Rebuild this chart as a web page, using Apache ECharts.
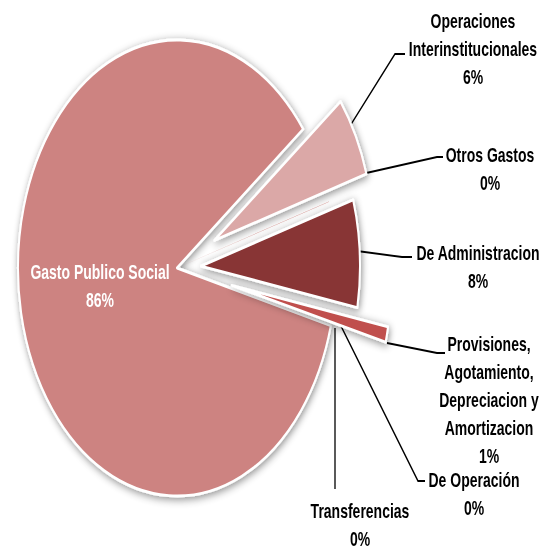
<!DOCTYPE html>
<html><head><meta charset="utf-8">
<script src="https://cdn.jsdelivr.net/npm/echarts@6/dist/echarts.min.js"></script>
<style>
html,body{margin:0;padding:0;background:#fff;overflow:hidden}
#wrap{position:absolute;left:0;top:0;width:555px;height:550px;overflow:hidden;background:#fff}
#chart{position:absolute;left:0;top:0;width:555px;transform-origin:0 0}
</style></head>
<body><div id="wrap"><div id="chart"></div></div>
<script>
// ---- data ----
const categories = [
  'Operaciones\nInterinstitucionales',
  'Otros Gastos',
  'De Administracion',
  'Provisiones,\nAgotamiento,\nDepreciacion y\nAmortizacion',
  'De Operación',
  'Transferencias',
  'Gasto Publico Social'
];
const values = [5.7, 0.03, 7.6, 1.1, 0.03, 0.03, 85.51];

// ---- styles / layout ----
const K = 228 / 159;                 // vertical stretch of the picture
const sliceColors = ['#DBA8A7', '#C4605C', '#883434', '#C0504D', '#A0403D', '#B05552', '#CD8381'];
const explodeOffset = [42, 0, 24, 56, 0, 0, 0];
const labelPos = [[473, 49], [490, 169], [478, 267], [489, 400], [474, 494], [360, 525], [100, 286]];
const leader = [
  [[350, 126], [395, 54], [405, 54]],
  [[353, 176], [437, 157], [443, 157]],
  [[357, 251], [402, 257], [412, 257]],
  [[387, 343], [437, 353], [445, 353]],
  [[338, 320], [418, 481], [425, 481]],
  [[335, 328], [335, 420], [335, 489]],
  null
];
const labelColors = ['#000', '#000', '#000', '#000', '#000', '#000', '#fff'];

const el = document.getElementById('chart');
el.style.height = (550 / K) + 'px';
el.style.transform = 'scaleY(' + K + ')';

const total = values.reduce((a, b) => a + b, 0);
const center = [177, 268 / K];
const radius = 159;
const startAngle = 37.5;

const hidden = { color: 'rgba(0,0,0,0)', borderWidth: 0, shadowBlur: 0, shadowColor: 'rgba(0,0,0,0)' };
function visible(i) {
  return {
    color: sliceColors[i], borderColor: '#ffffff', borderWidth: values[i] < 0.5 ? 0 : 2,
    shadowBlur: 6, shadowColor: 'rgba(0,0,0,0.45)', shadowOffsetX: 1, shadowOffsetY: 1.5
  };
}

const groups = [...new Set(explodeOffset)].sort((a, b) => a - b);
const series = groups.map(g => ({
  type: 'pie', center: center, radius: radius, startAngle: startAngle, clockwise: true,
  selectedMode: 'multiple', selectedOffset: g, animation: false, silent: true,
  avoidLabelOverlap: false, label: { show: false }, labelLine: { show: false },
  emphasis: { disabled: true, scale: false },
  data: categories.map((c, i) => ({
    name: c, value: values[i],
    selected: explodeOffset[i] === g && g > 0,
    itemStyle: explodeOffset[i] === g ? visible(i) : hidden
  }))
}));

// label-only series on top
series.push({
  type: 'pie', center: center, radius: radius, startAngle: startAngle, clockwise: true,
  animation: false, silent: true, avoidLabelOverlap: false,
  emphasis: { disabled: true, scale: false },
  label: {
    show: true, position: 'outside', align: 'center',
    fontFamily: '"Liberation Sans", Arial, sans-serif', fontWeight: 'bold',
    fontSize: 14, lineHeight: 28 / K,
    formatter: p => p.name + '\n' + Math.round(p.value / total * 100) + '%'
  },
  labelLine: { show: true, lineStyle: { color: '#000', width: 1.3 } },
  labelLayout: function (p) {
    const i = p.dataIndex;
    const res = { x: labelPos[i][0], y: labelPos[i][1] / K, align: 'center', verticalAlign: 'middle' };
    if (leader[i]) res.labelLinePoints = leader[i].map(q => [q[0], q[1] / K]);
    return res;
  },
  data: categories.map((c, i) => ({
    name: c, value: values[i], itemStyle: hidden,
    label: { color: labelColors[i] },
    labelLine: { show: !!leader[i] }
  }))
});

const chart = echarts.init(el, null, { renderer: 'svg' });
chart.setOption({ backgroundColor: 'transparent', animation: false, series: series });
</script>
</body></html>
